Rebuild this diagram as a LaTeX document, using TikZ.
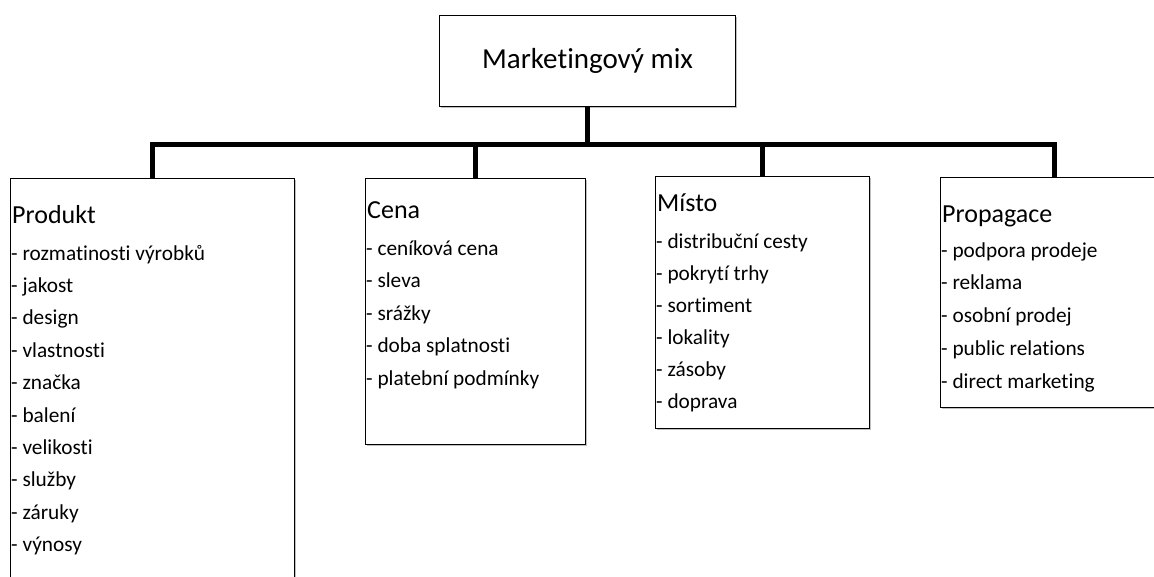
\documentclass[tikz,border=0pt]{standalone}
\usepackage{fontspec}
\setmainfont{Carlito}[Ligatures=NoCommon]
\usetikzlibrary{shadows}
\begin{document}
\begin{tikzpicture}[x=1pt,y=-1pt,
  box/.style={draw=black, line width=1.2pt, fill=white, inner sep=0pt, anchor=north west,
    drop shadow={shadow xshift=1.5pt, shadow yshift=-1.5pt, fill=black, opacity=0.25}},
  conn/.style={line width=5pt, line join=miter},
  ttl/.style={anchor=base west, inner sep=0pt, font=\fontsize{26}{30}\selectfont},
  itm/.style={anchor=base west, inner sep=0pt, font=\fontsize{21.3}{25}\selectfont}]
\useasboundingbox (0,0) rectangle (1154,576);

% boxes
\node[box, minimum width=296pt, minimum height=91pt, font=\fontsize{29}{34}\selectfont] (mm) at (439,15) {Marketingový mix};
\node[box, minimum width=284pt, minimum height=430pt] (prod) at (10,178) {};
\node[box, minimum width=220pt, minimum height=266pt] (cena) at (364.5,177.5) {};
\node[box, minimum width=214pt, minimum height=252pt] (misto) at (655,176) {};
\node[box, minimum width=228pt, minimum height=230pt] (prop) at (940,177) {};

% connectors
\draw[conn] (mm.south) -- ++(0,37) coordinate (hub);
\draw[conn] (hub) -| (prod.north);
\draw[conn] (hub) -| (cena.north);
\draw[conn] (hub) -| (misto.north);
\draw[conn] (hub) -| (prop.north);

% Produkt
\node[ttl] (prodT) at (12,223) {Produkt};
\foreach \t [count=\i from 0] in {rozmatinosti výrobků, jakost, design, vlastnosti, značka, balení, velikosti, služby, záruky, výnosy}
  \node[itm] (p\i) at (11,260+32.4*\i) {- \t};

% Cena
\node[ttl] (cenaT) at (367,218) {Cena};
\foreach \t [count=\i from 0] in {ceníková cena, sleva, srážky, doba splatnosti, platební podmínky}
  \node[itm] (c\i) at (366,255+32.5*\i) {- \t};

% Misto
\node[ttl] (mistoT) at (657,211) {Místo};
\foreach \t [count=\i from 0] in {distribuční cesty, pokrytí trhy, sortiment, lokality, zásoby, doprava}
  \node[itm] (m\i) at (656,248+32*\i) {- \t};

% Propagace
\node[ttl] (propT) at (942,222) {Propagace};
\foreach \t [count=\i from 0] in {podpora prodeje, reklama, osobní prodej, public relations, direct marketing}
  \node[itm] (g\i) at (941,257+32.75*\i) {- \t};
\end{tikzpicture}
\end{document}
